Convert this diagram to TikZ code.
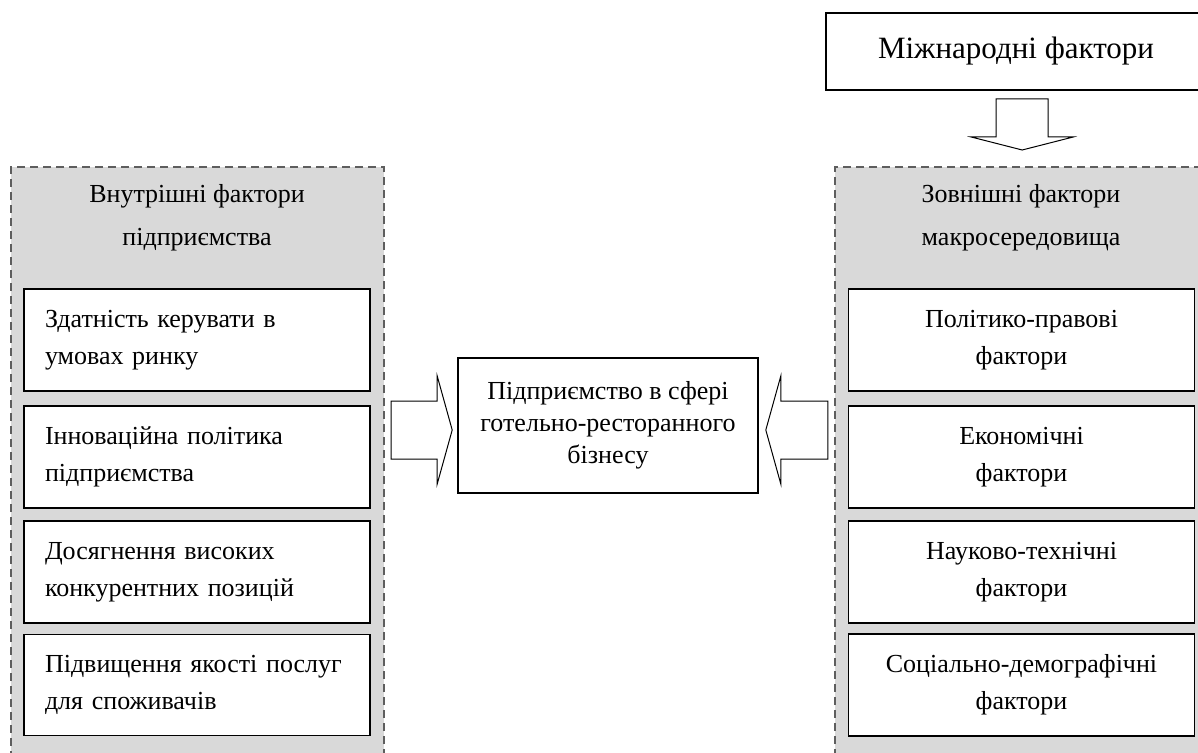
\documentclass[tikz,border=0pt]{standalone}
\usepackage{fontspec}
\setmainfont{Liberation Serif}
\usetikzlibrary{calc}
\definecolor{PanelGray}{HTML}{D9D9D9}
\definecolor{DashGray}{HTML}{5E5E5E}
% block arrow: tail, tip, half shaft, half head, head length
\newcommand{\blockarrow}[5]{%
  \coordinate (ba-h) at ($(#2)!#5!(#1)$);
  \draw[arrowline] ($(#1)!#3!90:(#2)$) -- ($(ba-h)!#3!-90:(#1)$) -- ($(ba-h)!#4!-90:(#1)$)
    -- (#2) -- ($(ba-h)!#4!90:(#1)$) -- ($(ba-h)!#3!90:(#1)$) -- ($(#1)!#3!-90:(#2)$) -- cycle;
}

\begin{document}
\begin{tikzpicture}[x=0.5pt,y=-0.5pt,
  panel/.style={draw=DashGray, fill=PanelGray, dash pattern=on 4pt off 2.5pt, line width=1.2pt,
    anchor=north west, minimum height=310pt, inner sep=0pt},
  panelhead/.style={align=center, font=\fontsize{13}{21.5}\selectfont},
  leftbox/.style={draw, fill=white, line width=0.8pt, minimum width=173pt, minimum height=50pt,
    inner sep=10.5pt, text width=152pt, align=left, font=\fontsize{13}{18.5}\selectfont},
  rightbox/.style={leftbox, align=center},
  arrowline/.style={draw, fill=white, line width=0.5pt, line join=miter}]
\clip (0,0) rectangle (1198,753);

% Panels
\node[panel, minimum width=186.5pt] (inpanel) at (10,166) {};
\node[panel, minimum width=187pt] (expanel) at (834,166) {};

% Internal factors
\node[panelhead] (inhead) at (197,218) {Внутрішні фактори\\підприємства};
\node[leftbox] (in1) at (197,340) {Здатність керувати в\\умовах ринку};
\node[leftbox] (in2) at (197,457) {Інноваційна політика\\підприємства};
\node[leftbox] (in3) at (197,572) {Досягнення високих\\конкурентних позицій};
\node[leftbox] (in4) at (197,685) {Підвищення якості послуг\\для споживачів};

% External factors
\node[panelhead] (exhead) at (1021,218) {Зовнішні фактори\\макросередовища};
\node[rightbox] (ex1) at (1021.5,340) {Політико-правові\\фактори};
\node[rightbox] (ex2) at (1021.5,457) {Економічні\\фактори};
\node[rightbox] (ex3) at (1021.5,572) {Науково-технічні\\фактори};
\node[rightbox] (ex4) at (1021.5,685) {Соціально-демографічні\\фактори};

% International factors
\node[draw, line width=0.8pt, minimum width=190pt, minimum height=38.5pt,
  font=\fontsize{15.5}{18}\selectfont] (intl) at (1016,51.5) {Міжнародні фактори};

% Enterprise
\node[draw, line width=0.8pt, minimum width=150pt, minimum height=67.5pt, align=center,
  font=\fontsize{13}{16}\selectfont] (ent) at (608,425.5) {Підприємство в сфері\\готельно-ресторанного\\бізнесу};

% Block arrows
\coordinate (la) at ($(ent.west)+(-66,4.5)$);
\coordinate (lb) at ($(ent.west)+(-5,4.5)$);
\coordinate (ra) at ($(ent.east)+(69,4.5)$);
\coordinate (rb) at ($(ent.east)+(7,4.5)$);
\coordinate (ta) at ($(intl.south -| expanel.north)+(0,8)$);
\coordinate (tb) at ($(expanel.north)+(0,-16)$);
\blockarrow{la}{lb}{14.5pt}{27pt}{7.5pt}
\blockarrow{ra}{rb}{14.5pt}{27pt}{7.5pt}
\blockarrow{ta}{tb}{13pt}{25.5pt}{6.5pt}
\end{tikzpicture}
\end{document}
